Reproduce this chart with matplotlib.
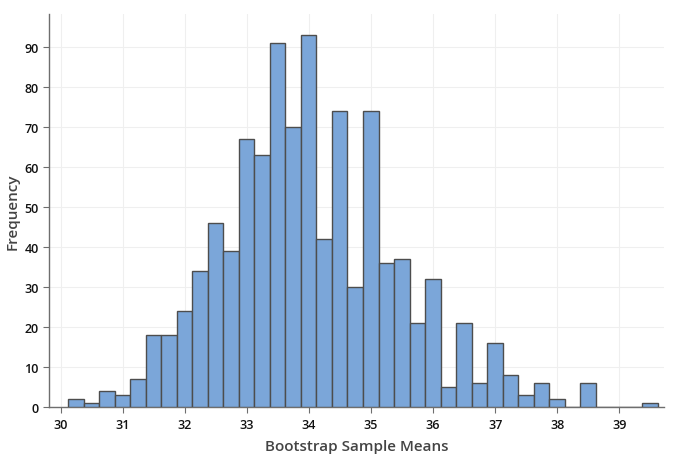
import numpy as np
import matplotlib
matplotlib.use("Agg")
import matplotlib.pyplot as plt

plt.rcParams['font.family'] = ['Open Sans', 'DejaVu Sans']

# histogram of 1000 bootstrap sample means
bin_start = 30.12
bin_width = 0.25
counts = [2, 1, 4, 3, 7, 18, 18, 24, 34, 46,
          39, 67, 63, 91, 70, 93, 42, 74, 30, 74,
          36, 37, 21, 32, 5, 21, 6, 16, 8, 3,
          6, 2, 0, 6, 0, 0, 0, 1]
x_ticks = [30, 31, 32, 33, 34, 35, 36, 37, 38, 39]
y_ticks = [0, 10, 20, 30, 40, 50, 60, 70, 80, 90]

edges = bin_start + bin_width * np.arange(len(counts) + 1)

fig = plt.figure(figsize=(6.85, 4.6), dpi=100)
ax = fig.add_axes([0.0715, 0.1124, 0.8978, 0.855])

ax.bar(edges[:-1], counts, width=bin_width, align='edge',
       color='#7ba6d9', edgecolor='#4d4d4d', linewidth=1.0, zorder=3)

ax.set_xlim(29.81, 39.72)
ax.set_ylim(0, 98.3)
ax.set_xticks(x_ticks)
ax.set_yticks(y_ticks)
ax.grid(True, color='#efefef', linewidth=0.8, zorder=0)

for s in ['top', 'right']:
    ax.spines[s].set_visible(False)
for s in ['left', 'bottom']:
    ax.spines[s].set_color('#6e6e6e')
    ax.spines[s].set_linewidth(1.0)

ax.tick_params(axis='both', colors='#6e6e6e', labelcolor='#111111',
               labelsize=9, length=4, width=0.8)
for lbl in ax.get_xticklabels() + ax.get_yticklabels():
    lbl.set_fontweight('semibold')

ax.set_xlabel('Bootstrap Sample Means', fontsize=11, color='#444444',
              fontweight='semibold')
ax.set_ylabel('Frequency', fontsize=11, color='#444444', fontweight='semibold')
ax.xaxis.set_label_coords(0.5, -0.081)
ax.yaxis.set_label_coords(-0.048, 0.5)

fig.savefig('out.png', dpi=100)
